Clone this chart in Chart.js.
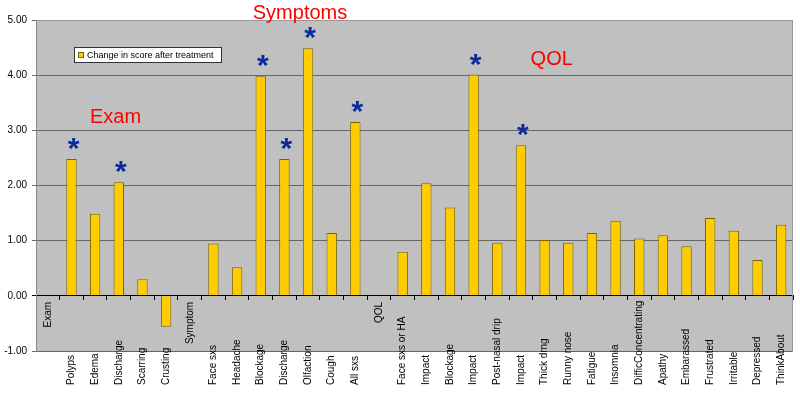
<!DOCTYPE html>
<html>
<head>
<meta charset="utf-8">
<script src="https://cdn.jsdelivr.net/npm/chart.js@4"></script>
<style>
  body { margin: 0; background: #fff; }
</style>
</head>
<body>
<canvas id="myChart" width="800" height="397"></canvas>
<script>
    // categories on the x axis (group headers carry no bar)
    let categories = ['Exam', 'Polyps', 'Edema', 'Discharge', 'Scarring', 'Crusting',
        'Symptom', 'Face sxs', 'Headache', 'Blockage', 'Discharge', 'Olfaction', 'Cough', 'All sxs',
        'QOL', 'Face sxs or HA', 'Impact', 'Blockage', 'Impact', 'Post-nasal drip', 'Impact',
        'Thick drng', 'Runny nose', 'Fatigue', 'Insomnia', 'DifficConcentrating', 'Apathy',
        'Embarassed', 'Frustrated', 'Irritable', 'Depressed', 'ThinkAbout'];
    let headers = ['Exam', 'Symptom', 'QOL'];

    // change in score after treatment
    let changeScores = [null, 2.48, 1.49, 2.06, 0.30, -0.56,
        null, 0.95, 0.52, 3.98, 2.48, 4.49, 1.14, 3.15,
        null, 0.80, 2.04, 1.60, 4.01, 0.96, 2.73,
        1.01, 0.96, 1.14, 1.36, 1.04, 1.10, 0.90, 1.41, 1.18, 0.65, 1.29];

    // significant changes (marked with *)
    let significant = [false, true, false, true, false, false,
        false, false, false, true, true, true, false, true,
        false, false, false, false, true, false, true,
        false, false, false, false, false, false, false, false, false, false, false];

    let yTicks = [-1, 0, 1, 2, 3, 4, 5];
    let seriesName = 'Change in score after treatment';

    // group titles: text, category position, value position
    let groupTitles = [
        { text: 'Exam', at: 2.86, value: 3.14 },
        { text: 'Symptoms', at: 10.66, value: 5.02 },
        { text: 'QOL', at: 21.3, value: 4.19 }
    ];

    let FONT = "'Liberation Sans', Arial, sans-serif";

    let plotDecor = {
        id: 'plotDecor',
        beforeDraw(chart) {
            let { ctx, chartArea: a } = chart;
            ctx.save();
            ctx.fillStyle = '#C0C0C0';
            ctx.fillRect(a.left, a.top, a.right - a.left, a.bottom - a.top);
            ctx.restore();
        },
        afterDraw(chart) {
            let { ctx, chartArea: a } = chart;
            let xs = chart.scales.x, ys = chart.scales.y;
            let meta = chart.getDatasetMeta(0);
            ctx.save();

            // plot border top / right
            ctx.strokeStyle = '#999';
            ctx.lineWidth = 1;
            ctx.beginPath();
            ctx.moveTo(Math.round(a.left) + 0.5, Math.round(a.top) + 0.5);
            ctx.lineTo(Math.round(a.right) - 0.5, Math.round(a.top) + 0.5);
            ctx.lineTo(Math.round(a.right) - 0.5, Math.round(a.bottom) + 0.5);
            ctx.stroke();

            // category labels, rotated
            let zeroY = ys.getPixelForValue(0);
            ctx.fillStyle = '#000';
            ctx.font = '10px ' + FONT;
            ctx.textBaseline = 'middle';
            categories.forEach((label, i) => {
                let x = xs.getPixelForValue(i);
                ctx.save();
                if (headers.includes(label)) {
                    ctx.translate(x, zeroY + 6);
                    ctx.rotate(-Math.PI / 2);
                    ctx.textAlign = 'right';
                } else {
                    ctx.translate(x, 385);
                    ctx.rotate(-Math.PI / 2);
                    ctx.textAlign = 'left';
                }
                ctx.fillText(label, 0, 0);
                ctx.restore();
            });

            // asterisks above significant bars
            ctx.fillStyle = '#0A2A9E';
            ctx.font = 'bold 30px ' + FONT;
            ctx.textAlign = 'center';
            ctx.textBaseline = 'alphabetic';
            significant.forEach((sig, i) => {
                if (!sig) return;
                let bar = meta.data[i];
                ctx.fillText('*', bar.x + 2, bar.y - 1);
            });

            // group titles
            ctx.fillStyle = '#FF0000';
            ctx.font = '20px ' + FONT;
            groupTitles.forEach(t => {
                ctx.fillText(t.text, xs.getPixelForValue(t.at), ys.getPixelForValue(t.value));
            });

            // legend box
            let ds = chart.data.datasets[0];
            ctx.fillStyle = '#fff';
            ctx.fillRect(74.5, 47.5, 147, 15);
            ctx.strokeStyle = '#333';
            ctx.strokeRect(74.5, 47.5, 147, 15);
            ctx.fillStyle = ds.backgroundColor;
            ctx.fillRect(78.5, 52.5, 5, 5);
            ctx.strokeStyle = ds.borderColor;
            ctx.strokeRect(78.5, 52.5, 5, 5);
            ctx.fillStyle = '#000';
            ctx.font = '9px ' + FONT;
            ctx.textAlign = 'left';
            ctx.textBaseline = 'middle';
            ctx.fillText(ds.label, 87, 55.5);

            ctx.restore();
        }
    };

    let ctx = document.getElementById('myChart');

    let config = {
        type: 'bar',
        data: {
            labels: categories,
            datasets: [
                {
                    label: seriesName,
                    data: changeScores,
                    backgroundColor: '#FFCC00',
                    borderColor: '#7A6500',
                    borderWidth: 1,
                    barPercentage: 0.44,
                    categoryPercentage: 1
                }
            ]
        },
        options: {
            responsive: false,
            animation: false,
            layout: { padding: { top: 20, right: 7, bottom: 46, left: 0 } },
            plugins: {
                legend: { display: false },
                tooltip: { enabled: false }
            },
            scales: {
                x: {
                    type: 'category',
                    position: { y: 0 },
                    grid: {
                        display: true,
                        offset: true,
                        drawOnChartArea: false,
                        drawTicks: true,
                        tickLength: 4,
                        color: '#000'
                    },
                    border: { display: true, color: '#000', width: 1 },
                    ticks: { display: false }
                },
                y: {
                    min: -1,
                    max: 5,
                    afterBuildTicks: s => { s.ticks = yTicks.map(v => ({ value: v })); },
                    afterFit: s => { s.width = 36; },
                    grid: {
                        color: c => c.tick && c.tick.value === 0 ? '#000' : '#666',
                        drawTicks: true,
                        tickLength: 4
                    },
                    border: { display: true, color: '#888' },
                    ticks: {
                        padding: 5,
                        color: '#000',
                        font: { family: FONT, size: 10 },
                        callback: v => v.toFixed(2)
                    }
                }
            }
        },
        plugins: [plotDecor]
    };

    let myChart = new Chart(ctx, config);
</script>
</body>
</html>
